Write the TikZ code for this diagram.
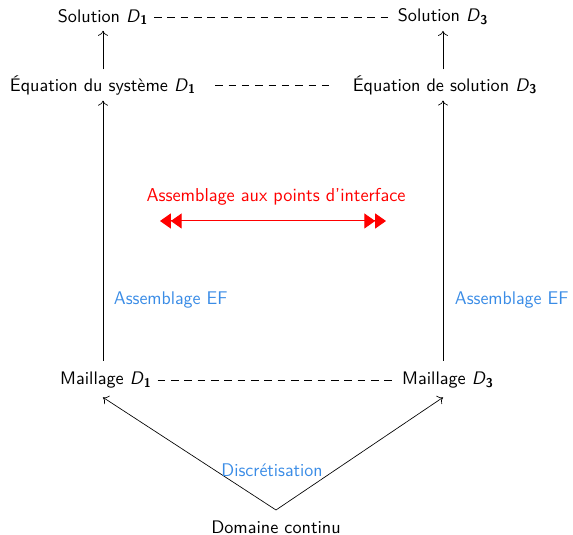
\documentclass[tikz,border=0pt]{standalone}
\usepackage{tikz}
\usetikzlibrary{arrows.meta}
\renewcommand{\familydefault}{\sfdefault}
\definecolor{ink}{HTML}{000000}
\definecolor{efblue}{HTML}{3A8CE6}
\definecolor{iface}{HTML}{FF0000}
\newcommand{\dom}[1]{\textsl{D}\textsubscript{\textbf{#1}}}
\tikzset{
  box/.style={font=\fontsize{10.9}{13}\selectfont,text=ink},
  lnk/.style={ink,-{To[length=3pt,width=6pt]}},
  tie/.style={ink,dash pattern=on 4.5pt off 3.5pt},
  efl/.style={font=\fontsize{11}{13}\selectfont,text=efblue},
  ifl/.style={font=\fontsize{11.2}{13}\selectfont,text=iface},
  iarr/.style={iface,semithick,{Triangle[length=6.5pt,width=9pt]Triangle[length=6.5pt,width=9pt]}-{Triangle[length=6.5pt,width=9pt]Triangle[length=6.5pt,width=9pt]}},
}

\begin{document}
\begin{tikzpicture}[x=0.6pt,y=-0.6pt]
  \useasboundingbox (0,0) rectangle (573,535);
  \node[box] (sol1) at (103,17) {Solution \dom{1}};
  \node[box] (sol3) at (443,17) {Solution \dom{3}};
  \node[box] (eq1) at (103,85) {Équation du système \dom{1}};
  \node[box] (eq3) at (445,85) {Équation de solution \dom{3}};
  \node[box] (mail1) at (106,380) {Maillage \dom{1}};
  \node[box] (mail3) at (448,380) {Maillage \dom{3}};
  \node[box] (dom) at (276,527) {Domaine continu};
  \draw[tie] (sol1) -- (sol3);
  \draw[tie] ([xshift=8pt]eq1.east) -- ([xshift=-11pt]eq3.west);
  \draw[lnk] (eq1.north -| sol1) -- (sol1);
  \draw[lnk] (eq3.north -| sol3) -- (sol3);
  \draw[lnk] ([yshift=3pt]mail1.north -| sol1) -- (eq1.south -| sol1);
  \draw[lnk] ([yshift=3pt]mail3.north -| sol3) -- (eq3.south -| sol3);
  \node[efl,anchor=west] (ef1) at (108,300) {Assemblage EF};
  \node[efl,anchor=west] (ef3) at (449,300) {Assemblage EF};
  \draw[tie] (mail1) -- (mail3);
  \node[ifl] (asm) at (276,197) {Assemblage aux points d'interface};
  \coordinate (ia) at (160,221);
  \coordinate (ib) at (386,221);
  \draw[iarr] (ia) -- (ib);
  \coordinate (apex) at (276,510);
  \draw[lnk] (apex) -- ([yshift=-2pt]mail1.south -| sol1);
  \draw[lnk] (apex) -- ([yshift=-2pt]mail3.south -| sol3);
  \node[efl] (disc) at (272,470) {Discrétisation};
\end{tikzpicture}
\end{document}
